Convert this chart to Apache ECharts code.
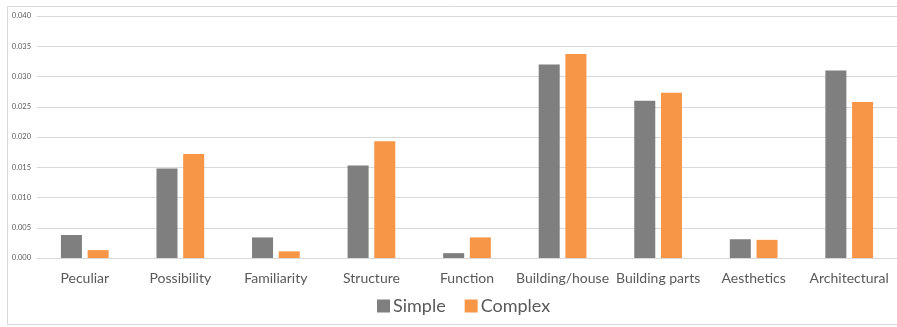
<!DOCTYPE html>
<html><head><meta charset="utf-8">
<script src="https://cdn.jsdelivr.net/npm/echarts@6/dist/echarts.min.js"></script>
<style>html,body{margin:0;padding:0;background:#fff}#c{width:897px;height:327px}</style>
</head><body><div id="c"></div>
<script>
const categories = ["Peculiar","Possibility","Familiarity","Structure","Function","Building/house","Building parts","Aesthetics","Architectural"];
const simpleValues = [0.0038,0.0148,0.0034,0.0153,0.0008,0.0320,0.0260,0.0031,0.0310];
const complexValues = [0.0013,0.0172,0.0011,0.0193,0.0034,0.0337,0.0273,0.0030,0.0258];
const seriesNames = ["Simple","Complex"];
const FONT = "Lato";
const chart = echarts.init(document.getElementById('c'));
chart.setOption({
  animation:false,
  textStyle:{fontFamily:FONT},
  graphic:[{type:'rect',shape:{x:7.5,y:6.5,width:900,height:318},style:{fill:'none',stroke:'#d9d9d9',lineWidth:1},z:-1}],
  grid:{left:37,right:-2,top:16,bottom:69},
  legend:{bottom:7,left:372,itemWidth:13,itemHeight:13,itemGap:19,icon:'rect',
    textStyle:{fontSize:18,color:'#595959',fontFamily:FONT,padding:[0,0,0,-2]},
    data:seriesNames},
  xAxis:{type:'category',data:categories,
    axisLine:{lineStyle:{color:'#d9d9d9'}},axisTick:{show:false},
    axisLabel:{fontSize:14,color:'#595959',margin:13,interval:0}},
  yAxis:{type:'value',min:0,max:0.04,interval:0.005,
    axisLabel:{fontSize:7.5,color:'#595959',margin:6,formatter:v=>v.toFixed(3)},
    splitLine:{lineStyle:{color:'#d9d9d9'}},axisLine:{show:false},axisTick:{show:false}},
  series:[
    {name:seriesNames[0],type:'bar',data:simpleValues,barWidth:'22%',barGap:'27%',itemStyle:{color:'#7f7f7f'}},
    {name:seriesNames[1],type:'bar',data:complexValues,barWidth:'22%',barGap:'27%',itemStyle:{color:'#f79646'}}
  ]
});
</script></body></html>
